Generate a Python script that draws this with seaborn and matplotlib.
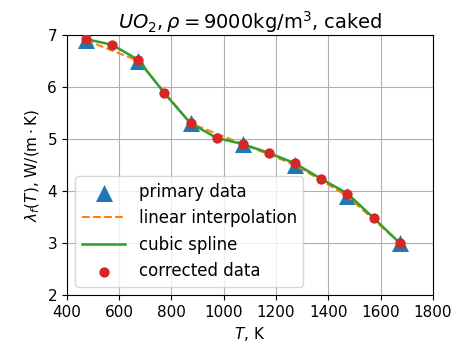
import matplotlib
matplotlib.use("Agg")
import matplotlib.pyplot as plt
import seaborn as sns
import pandas as pd

# primary data (K, W/(m K))
T_primary = [473, 673, 873, 1073, 1273, 1473, 1673]
lam_primary = [6.9, 6.5, 5.3, 4.9, 4.5, 3.9, 3.0]

# corrected data
T_corr = [473, 573, 673, 773, 873, 973, 1073, 1173, 1273, 1373, 1473, 1573, 1673]
lam_corr = [6.92, 6.81, 6.52, 5.88, 5.3, 5.02, 4.9, 4.73, 4.53, 4.23, 3.95, 3.48, 3.0]

prim = pd.DataFrame({"T": T_primary, "lam": lam_primary})
corr = pd.DataFrame({"T": T_corr, "lam": lam_corr})

plt.rcParams["font.size"] = 11
plt.rcParams["font.family"] = ["DejaVu Sans"]

fig = plt.figure(figsize=(4.61, 3.49), dpi=100)
ax = fig.add_axes([0.145, 0.155, 0.794, 0.745])

sns.scatterplot(x="T", y="lam", data=prim, marker="^", s=150, color="#1f77b4",
                linewidth=0, label="primary data", ax=ax, zorder=2)
sns.lineplot(x="T", y="lam", data=prim, color="#ff7f0e", linestyle="--",
             linewidth=1.5, label="linear interpolation", ax=ax, zorder=3)
sns.lineplot(x="T", y="lam", data=corr, color="#2ca02c", linewidth=1.8,
             label="cubic spline", ax=ax, zorder=4)
sns.scatterplot(x="T", y="lam", data=corr, marker="o", s=55, color="#d62728",
                linewidth=0, label="corrected data", ax=ax, zorder=5)

ax.set_xlim(400, 1800)
ax.set_ylim(2, 7)
ax.grid(True, color="#b0b0b0", linewidth=0.8)
ax.set_axisbelow(True)
ax.set_title(r"$UO_2, \rho = 9000\mathrm{kg/m}^3$, caked", fontsize=14, pad=4)
ax.set_xlabel(r"$T$, K")
ax.set_ylabel(r"$\lambda_f(T)$, $\mathrm{W/(m \cdot K)}$")
ax.legend(loc="lower left", fontsize=12, handlelength=2.6)

fig.savefig("out.png", dpi=100)
